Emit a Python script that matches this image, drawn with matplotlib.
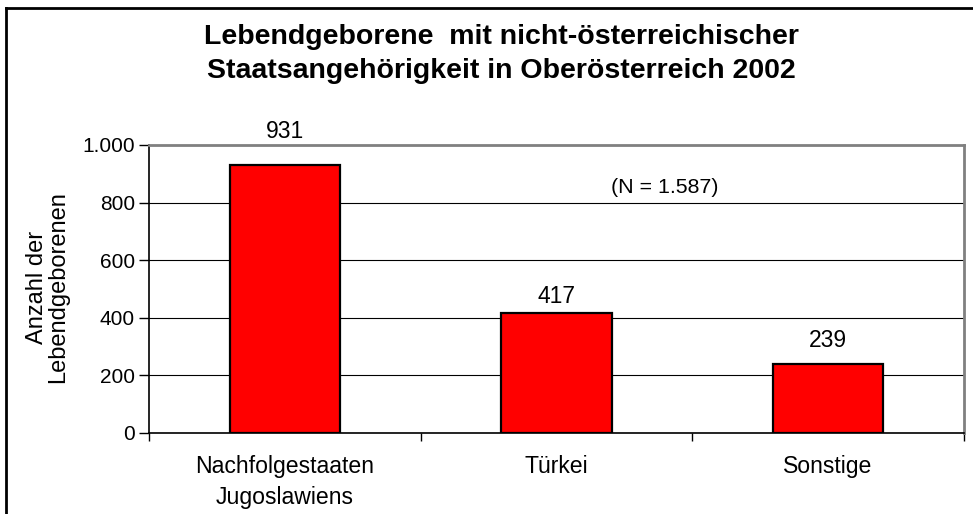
import matplotlib
matplotlib.use("Agg")
import matplotlib.pyplot as plt
from matplotlib.ticker import FuncFormatter

categories = ["Nachfolgestaaten\nJugoslawiens", "Türkei", "Sonstige"]
values = [931, 417, 239]
yticks = [0, 200, 400, 600, 800, 1000]
title = "Lebendgeborene  mit nicht-österreichischer\nStaatsangehörigkeit in Oberösterreich 2002"
ylabel = "Anzahl der\nLebendgeborenen"
note = "(N = 1.587)"

# label offsets above bar tops (pixels, style only)
label_gap_px = [33, 16, 24]

plt.rcParams['font.family'] = ['Liberation Sans', 'DejaVu Sans']

W, H = 973, 514
fig = plt.figure(figsize=(W / 100, H / 100), dpi=100)
fig.patch.set_facecolor("white")

# figure border (top and left visible)
fig.add_artist(plt.Line2D([6 / W, 6 / W], [0, 1 - 8 / H], color="black", lw=2.0, transform=fig.transFigure))
fig.add_artist(plt.Line2D([6 / W, 1], [1 - 8 / H, 1 - 8 / H], color="black", lw=2.0, transform=fig.transFigure))

left, right, top, bottom = 149, 964, 145, 433
ax = fig.add_axes([left / W, 1 - bottom / H, (right - left) / W, (bottom - top) / H])

x = list(range(len(categories)))
ax.bar(x, values, width=0.405, color="#ff0000", edgecolor="black", linewidth=1.6, zorder=3)
ax.set_xlim(-0.5, len(categories) - 0.5)
ax.set_ylim(0, 1000)

ax.set_yticks(yticks)
ax.yaxis.set_major_formatter(FuncFormatter(lambda v, p: f"{int(v):,}".replace(",", ".")))
ax.yaxis.grid(True, color="black", lw=0.8, zorder=0)
ax.tick_params(axis="y", direction="out", length=7, width=1, labelsize=15, pad=3)

ax.set_xticks([i + 0.5 for i in range(-1, len(categories))], minor=False)
ax.set_xticklabels([])
ax.set_xticks(x, minor=True)
ax.set_xticklabels(categories, minor=True, fontsize=16.6, linespacing=1.45)
ax.tick_params(axis="x", which="minor", length=0, pad=16)
ax.tick_params(axis="x", which="major", direction="out", length=6, width=1)

for s in ["left", "bottom"]:
    ax.spines[s].set_color("black")
    ax.spines[s].set_linewidth(1.2)
for s in ["top", "right"]:
    ax.spines[s].set_color("#808080")
    ax.spines[s].set_linewidth(2.0)

for xi, v, g in zip(x, values, label_gap_px):
    ax.annotate(str(v), (xi, v), xytext=(0, g * 0.72), textcoords="offset points",
                ha="center", va="center", fontsize=16.5, annotation_clip=False)

ax.text(1.4, 851, note, ha="center", va="center", fontsize=15.4)

fig.text(501 / W, 1 - 54 / H, title, ha="center", va="center", fontsize=20.5,
         fontweight="bold", linespacing=1.45)
fig.text(48 / W, 1 - 287 / H, ylabel, ha="center", va="center", rotation=90, fontsize=17,
         linespacing=0.95)

fig.savefig("out.png", dpi=100, facecolor="white")
